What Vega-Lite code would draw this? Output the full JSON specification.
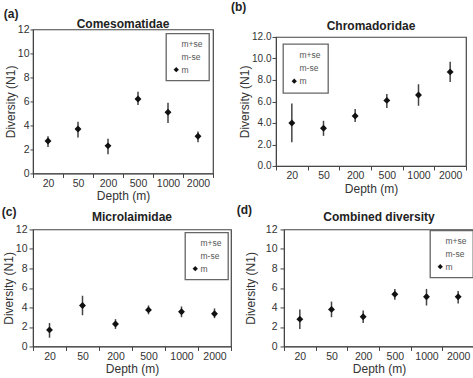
{
  "$schema": "https://vega.github.io/schema/vega-lite/v6.json",
  "padding": {"left": 1, "top": 1, "right": 0, "bottom": 0},
  "background": "white",
  "datasets": {
    "div": [
      {"panel": "a", "depth": "20", "m": 2.7, "lo": 2.2, "hi": 3.1},
      {"panel": "a", "depth": "50", "m": 3.7, "lo": 3.0, "hi": 4.3},
      {"panel": "a", "depth": "200", "m": 2.3, "lo": 1.6, "hi": 2.9},
      {"panel": "a", "depth": "500", "m": 6.2, "lo": 5.7, "hi": 6.8},
      {"panel": "a", "depth": "1000", "m": 5.1, "lo": 4.2, "hi": 5.9},
      {"panel": "a", "depth": "2000", "m": 3.1, "lo": 2.6, "hi": 3.5},
      {"panel": "b", "depth": "20", "m": 4.0, "lo": 2.2, "hi": 5.8},
      {"panel": "b", "depth": "50", "m": 3.5, "lo": 2.8, "hi": 4.2},
      {"panel": "b", "depth": "200", "m": 4.65, "lo": 4.1, "hi": 5.3},
      {"panel": "b", "depth": "500", "m": 6.1, "lo": 5.4, "hi": 6.7},
      {"panel": "b", "depth": "1000", "m": 6.6, "lo": 5.6, "hi": 7.6},
      {"panel": "b", "depth": "2000", "m": 8.75, "lo": 7.8, "hi": 9.7},
      {"panel": "c", "depth": "20", "m": 1.7, "lo": 0.9, "hi": 2.4},
      {"panel": "c", "depth": "50", "m": 4.2, "lo": 3.2, "hi": 5.2},
      {"panel": "c", "depth": "200", "m": 2.3, "lo": 1.8, "hi": 2.8},
      {"panel": "c", "depth": "500", "m": 3.75, "lo": 3.3, "hi": 4.2},
      {"panel": "c", "depth": "1000", "m": 3.55, "lo": 3.0, "hi": 4.1},
      {"panel": "c", "depth": "2000", "m": 3.35, "lo": 2.9, "hi": 3.9},
      {"panel": "d", "depth": "20", "m": 2.8, "lo": 1.8, "hi": 3.8},
      {"panel": "d", "depth": "50", "m": 3.8, "lo": 3.0, "hi": 4.6},
      {"panel": "d", "depth": "200", "m": 3.05, "lo": 2.4, "hi": 3.7},
      {"panel": "d", "depth": "500", "m": 5.35, "lo": 4.8, "hi": 5.9},
      {"panel": "d", "depth": "1000", "m": 5.1, "lo": 4.2, "hi": 5.9},
      {"panel": "d", "depth": "2000", "m": 5.1, "lo": 4.4, "hi": 5.7}
    ]
  },
  "data": {"name": "div"},
  "config": {
    "font": "Liberation Sans",
    "view": {"stroke": "#444", "strokeWidth": 1.2},
    "axis": {
      "labelFont": "Liberation Sans", "labelFontSize": 10.5, "labelColor": "#333",
      "titleFont": "Liberation Sans", "titleFontSize": 12, "titleFontWeight": "normal", "titleColor": "#333",
      "domainColor": "#444", "tickColor": "#444", "tickSize": 4, "labelPadding": 1, "grid": false, "labelOverlap": false
    },
    "axisX": {"titlePadding": 2},
    "axisY": {"titlePadding": 0},
    "title": {"font": "Liberation Sans", "fontSize": 12, "fontWeight": "bold", "color": "#222", "offset": 3},
    "legend": {
      "orient": "top-right", "offset": 4, "padding": 6, "strokeColor": "#666", "strokeWidth": 1.3, "fillColor": "white",
      "labelFont": "Liberation Sans", "labelFontSize": 8.5, "labelColor": "#555", "rowPadding": 4, "labelOffset": 1,
      "symbolSize": 28, "symbolFillColor": "#111", "symbolStrokeColor": "#111", "symbolStrokeWidth": 0
    }
  },
  "resolve": {"scale": {"shape": "independent"}, "legend": {"shape": "independent"}},
  "vconcat": [
    {
      "resolve": {"scale": {"shape": "independent"}, "legend": {"shape": "independent"}},
      "center": true,
      "hconcat": [
        {
          "title": {"text": "(a)", "anchor": "start", "frame": "bounds", "offset": -3},
          "resolve": {"scale": {"shape": "independent"}, "legend": {"shape": "independent"}},
          "vconcat": [
            {
              "width": 180, "height": 144,
              "title": {"text": "Comesomatidae", "offset": -7},
              "transform": [{"filter": "datum.panel == 'a'"}],
              "encoding": {"x": {"field": "depth", "type": "nominal", "sort": ["20","50","200","500","1000","2000"], "scale": {"paddingInner": 0, "paddingOuter": 0}, "axis": {"title": "Depth (m)", "labelAngle": 0, "tickBand": "extent"}}},
              "layer": [
                {"mark": {"type": "rule", "color": "#444", "strokeWidth": 1.5}, "encoding": {"y": {"field": "lo", "type": "quantitative", "title": "Diversity (N1)", "scale": {"domain": [0, 12]}, "axis": {"values": [0,2,4,6,8,10,12], "tickSize": 3}}, "y2": {"field": "hi"}}},
                {"mark": {"type": "point", "filled": true, "color": "#111", "size": 48, "opacity": 1}, "encoding": {"y": {"field": "m", "type": "quantitative", "title": "Diversity (N1)", "axis": {"values": [0,2,4,6,8,10,12], "tickSize": 3}}, "shape": {"datum": "m", "scale": {"domain": ["m+se", "m-se", "m"], "range": ["M0,0", "M0,0", "diamond"]}, "legend": {"title": null, "orient": "top-right"}}}}
              ]
            }
          ]
        },
        {
          "title": {"text": "(b)", "anchor": "start", "frame": "bounds", "offset": 5, "dx": -7},
          "resolve": {"scale": {"shape": "independent"}, "legend": {"shape": "independent"}},
          "vconcat": [
            {
              "width": 190, "height": 129,
              "title": {"text": "Chromadoridae", "offset": -1},
              "transform": [{"filter": "datum.panel == 'b'"}],
              "encoding": {"x": {"field": "depth", "type": "nominal", "sort": ["20","50","200","500","1000","2000"], "scale": {"paddingInner": 0, "paddingOuter": 0}, "axis": {"title": "Depth (m)", "labelAngle": 0, "tickBand": "extent"}}},
              "layer": [
                {"mark": {"type": "rule", "color": "#444", "strokeWidth": 1.5}, "encoding": {"y": {"field": "lo", "type": "quantitative", "title": "Diversity (N1)", "scale": {"domain": [0, 12]}, "axis": {"values": [0,2,4,6,8,10,12], "format": ".1f", "labelFontSize": 10}}, "y2": {"field": "hi"}}},
                {"mark": {"type": "point", "filled": true, "color": "#111", "size": 48, "opacity": 1}, "encoding": {"y": {"field": "m", "type": "quantitative", "title": "Diversity (N1)", "axis": {"values": [0,2,4,6,8,10,12], "format": ".1f", "labelFontSize": 10}}, "shape": {"datum": "m", "scale": {"domain": ["m+se", "m-se", "m"], "range": ["M0,0", "M0,0", "diamond"]}, "legend": {"title": null, "orient": "top-left", "offset": 7, "padding": 7}}}}
              ]
            }
          ]
        }
      ],
      "spacing": 15
    },
    {
      "resolve": {"scale": {"shape": "independent"}, "legend": {"shape": "independent"}},
      "center": true,
      "hconcat": [
        {
          "title": {"text": "(c)", "anchor": "start", "frame": "bounds", "offset": -8},
          "resolve": {"scale": {"shape": "independent"}, "legend": {"shape": "independent"}},
          "vconcat": [
            {
              "width": 198, "height": 117,
              "title": {"text": "Microlaimidae", "offset": 0},
              "transform": [{"filter": "datum.panel == 'c'"}],
              "encoding": {"x": {"field": "depth", "type": "nominal", "sort": ["20","50","200","500","1000","2000"], "scale": {"paddingInner": 0, "paddingOuter": 0}, "axis": {"title": "Depth (m)", "labelAngle": 0, "tickBand": "extent"}}},
              "layer": [
                {"mark": {"type": "rule", "color": "#444", "strokeWidth": 1.5}, "encoding": {"y": {"field": "lo", "type": "quantitative", "title": "Diversity (N1)", "scale": {"domain": [0, 12]}, "axis": {"values": [0,2,4,6,8,10,12], "labelPadding": 2}}, "y2": {"field": "hi"}}},
                {"mark": {"type": "point", "filled": true, "color": "#111", "size": 48, "opacity": 1}, "encoding": {"y": {"field": "m", "type": "quantitative", "title": "Diversity (N1)", "axis": {"values": [0,2,4,6,8,10,12], "labelPadding": 2}}, "shape": {"datum": "m", "scale": {"domain": ["m+se", "m-se", "m"], "range": ["M0,0", "M0,0", "diamond"]}, "legend": {"title": null, "orient": "top-right", "offset": 3}}}}
              ]
            }
          ]
        },
        {
          "title": {"text": "(d)", "anchor": "start", "frame": "bounds", "offset": -6, "dx": -7},
          "resolve": {"scale": {"shape": "independent"}, "legend": {"shape": "independent"}},
          "vconcat": [
            {
              "width": 190, "height": 117,
              "title": {"text": "Combined diversity", "offset": 0},
              "transform": [{"filter": "datum.panel == 'd'"}],
              "encoding": {"x": {"field": "depth", "type": "nominal", "sort": ["20","50","200","500","1000","2000"], "scale": {"paddingInner": 0, "paddingOuter": 0}, "axis": {"title": "Depth (m)", "labelAngle": 0, "tickBand": "extent"}}},
              "layer": [
                {"mark": {"type": "rule", "color": "#444", "strokeWidth": 1.5}, "encoding": {"y": {"field": "lo", "type": "quantitative", "title": "Diversity (N1)", "scale": {"domain": [0, 12]}, "axis": {"values": [0,2,4,6,8,10,12], "labelPadding": 3, "titlePadding": 8}}, "y2": {"field": "hi"}}},
                {"mark": {"type": "point", "filled": true, "color": "#111", "size": 48, "opacity": 1}, "encoding": {"y": {"field": "m", "type": "quantitative", "title": "Diversity (N1)", "axis": {"values": [0,2,4,6,8,10,12], "labelPadding": 3, "titlePadding": 8}}, "shape": {"datum": "m", "scale": {"domain": ["m+se", "m-se", "m"], "range": ["M0,0", "M0,0", "diamond"]}, "legend": {"title": null, "orient": "top-right", "offset": 1}}}}
              ]
            }
          ]
        }
      ],
      "spacing": 3
    }
  ],
  "spacing": 0
}
